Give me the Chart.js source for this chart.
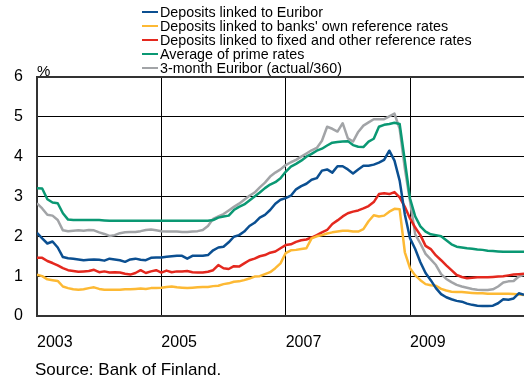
<!DOCTYPE html>
<html>
<head>
<meta charset="utf-8">
<script src="https://cdn.jsdelivr.net/npm/chart.js@4.4.1/dist/chart.umd.min.js"></script>
<style>
  body { margin: 0; background: #fff; font-family: 'Liberation Sans', Arial, sans-serif; color: #000; }
  #wrap { position: relative; width: 524px; height: 380px; overflow: hidden; }
  #legend { position: absolute; left: 142px; top: 5px; }
  .item { position: relative; height: 14px; line-height: 14px; font-size: 14.3px; padding-left: 18px; white-space: nowrap; }
  .item i { position: absolute; left: 0; top: 6px; width: 16px; height: 2px; }
  #pct { position: absolute; left: 37px; top: 62px; font-size: 15px; }
  #source { position: absolute; left: 35px; top: 360px; font-size: 17px; }
</style>
</head>
<body>
<div id="wrap">
  <canvas id="chart" width="524" height="380"></canvas>
  <div id="legend"></div>
  <div id="pct">%</div>
  <div id="source">Source: Bank of Finland.</div>
</div>
<script>
// monthly observations, Jan 2003 .. Nov 2010
const startYear = 2003;
const monthCount = 95;
const yearTicks = [0, 24, 48, 72];
const yearLabels = ['2003', '2005', '2007', '2009'];

const euriborLinked = [
  2.09, 1.95, 1.82, 1.87, 1.72, 1.48, 1.45, 1.44, 1.42, 1.40, 1.41, 1.42,
  1.41, 1.39, 1.44, 1.42, 1.40, 1.36, 1.42, 1.44, 1.41, 1.40, 1.46, 1.47,
  1.47, 1.49, 1.50, 1.51, 1.51, 1.44, 1.51, 1.51, 1.51, 1.53, 1.65, 1.72,
  1.74, 1.85, 1.99, 2.03, 2.12, 2.26, 2.34, 2.47, 2.54, 2.66, 2.82, 2.92,
  2.96, 3.02, 3.18, 3.26, 3.32, 3.42, 3.46, 3.65, 3.68, 3.60, 3.76, 3.76,
  3.68, 3.58, 3.68, 3.77, 3.77, 3.80, 3.85, 3.92, 4.15, 3.90, 3.40, 2.55,
  1.95, 1.68, 1.35, 1.08, 0.90, 0.70, 0.55, 0.47, 0.42, 0.38, 0.36, 0.31,
  0.28, 0.26, 0.25, 0.25, 0.26, 0.32, 0.42, 0.41, 0.44, 0.57, 0.53
];
const ownReference = [
  1.04, 1.00, 0.92, 0.90, 0.88, 0.74, 0.70, 0.67, 0.66, 0.67, 0.70, 0.72,
  0.68, 0.66, 0.66, 0.66, 0.66, 0.67, 0.67, 0.68, 0.69, 0.68, 0.70, 0.70,
  0.71, 0.73, 0.74, 0.72, 0.71, 0.70, 0.71, 0.72, 0.73, 0.73, 0.75, 0.76,
  0.80, 0.82, 0.86, 0.87, 0.90, 0.94, 0.99, 1.00, 1.05, 1.10, 1.20, 1.32,
  1.58, 1.65, 1.66, 1.68, 1.70, 1.95, 2.00, 2.03, 2.07, 2.10, 2.12, 2.14,
  2.14, 2.12, 2.12, 2.18, 2.38, 2.53, 2.50, 2.52, 2.62, 2.69, 2.68, 1.60,
  1.20, 1.02, 0.90, 0.80, 0.77, 0.76, 0.68, 0.64, 0.61, 0.60, 0.60, 0.59,
  0.58, 0.57, 0.57, 0.56, 0.56, 0.56, 0.56, 0.56, 0.55, 0.54, 0.53
];
const fixedOther = [
  1.46, 1.46, 1.38, 1.33, 1.27, 1.20, 1.15, 1.13, 1.11, 1.12, 1.13, 1.16,
  1.10, 1.12, 1.09, 1.10, 1.09, 1.06, 1.04, 1.08, 1.15, 1.08, 1.12, 1.15,
  1.09, 1.14, 1.10, 1.12, 1.12, 1.13, 1.10, 1.09, 1.09, 1.11, 1.15, 1.28,
  1.20, 1.18, 1.25, 1.24, 1.32, 1.40, 1.44, 1.50, 1.53, 1.59, 1.62, 1.70,
  1.78, 1.80, 1.86, 1.90, 1.92, 1.97, 2.03, 2.10, 2.16, 2.31, 2.40, 2.50,
  2.58, 2.62, 2.65, 2.70, 2.76, 2.86, 3.06, 3.08, 3.06, 3.11, 2.98, 2.74,
  2.45, 2.22, 2.03, 1.76, 1.68, 1.52, 1.40, 1.27, 1.15, 1.03, 0.98, 0.95,
  0.96, 0.97, 0.97, 0.97, 0.98, 0.99, 1.00, 1.02, 1.04, 1.05, 1.06
];
const primeAverage = [
  3.21, 3.20, 2.93, 2.85, 2.83, 2.58, 2.42, 2.41, 2.41, 2.41, 2.41, 2.41,
  2.41, 2.40, 2.39, 2.39, 2.39, 2.39, 2.39, 2.39, 2.39, 2.39, 2.39, 2.39,
  2.39, 2.39, 2.39, 2.39, 2.39, 2.39, 2.39, 2.39, 2.39, 2.39, 2.41, 2.47,
  2.50, 2.52, 2.66, 2.74, 2.80, 2.90, 3.00, 3.10, 3.21, 3.30, 3.36, 3.46,
  3.62, 3.75, 3.82, 3.90, 4.00, 4.07, 4.15, 4.20, 4.28, 4.35, 4.37, 4.38,
  4.39, 4.29, 4.25, 4.24, 4.38, 4.45, 4.75, 4.80, 4.82, 4.85, 4.82, 3.90,
  2.95, 2.50, 2.25, 2.12, 2.05, 2.03, 2.00, 1.90, 1.80, 1.74, 1.72, 1.70,
  1.69, 1.67, 1.66, 1.64, 1.63, 1.62, 1.61, 1.61, 1.61, 1.61, 1.61
];
const euribor3m = [
  2.83, 2.70, 2.54, 2.52, 2.41, 2.15, 2.13, 2.14, 2.15, 2.14, 2.16, 2.15,
  2.10, 2.06, 2.01, 2.03, 2.08, 2.10, 2.11, 2.11, 2.13, 2.16, 2.17, 2.15,
  2.13, 2.12, 2.12, 2.12, 2.11, 2.11, 2.12, 2.13, 2.16, 2.26, 2.44, 2.50,
  2.56, 2.65, 2.74, 2.82, 2.92, 3.02, 3.10, 3.23, 3.35, 3.50, 3.60, 3.68,
  3.79, 3.86, 3.92, 4.00, 4.08, 4.16, 4.22, 4.40, 4.75, 4.70, 4.63, 4.84,
  4.46, 4.38, 4.62, 4.78, 4.86, 4.94, 4.94, 4.94, 5.01, 5.08, 4.70, 3.70,
  2.88, 2.05, 1.82, 1.56, 1.42, 1.28, 1.05, 0.93, 0.85, 0.78, 0.74, 0.71,
  0.68, 0.66, 0.65, 0.65, 0.67, 0.74, 0.84, 0.87, 0.88, 0.99, 1.04
];

const seriesNames = [
  'Deposits linked to Euribor',
  "Deposits linked to banks' own reference rates",
  'Deposits linked to fixed and other reference rates',
  'Average of prime rates',
  '3-month Euribor (actual/360)'
];
const seriesColors = ['#0b4f91', '#fdb934', '#e4281e', '#0a9873', '#a2a4a7'];
const seriesData = [euriborLinked, ownReference, fixedOther, primeAverage, euribor3m];

// month labels, only used to tie values to dates
const months = [];
for (let i = 0; i < monthCount; i++) {
  months.push(`${startYear + Math.floor(i / 12)}-${String(i % 12 + 1).padStart(2, '0')}`);
}

// html legend, one item per line like the original
const legend = document.getElementById('legend');
seriesNames.forEach((name, i) => {
  const row = document.createElement('div');
  row.className = 'item';
  row.innerHTML = `<i style="background:${seriesColors[i]}"></i>${name}`;
  legend.appendChild(row);
});

Chart.defaults.font.family = "'Liberation Sans', Arial, sans-serif";
Chart.defaults.color = '#000';

const ctx = document.getElementById('chart').getContext('2d');
new Chart(ctx, {
  type: 'line',
  data: {
    datasets: seriesData.map((vals, i) => ({
      label: seriesNames[i],
      data: vals.map((v, m) => ({ x: m, y: v, month: months[m] })),
      borderColor: seriesColors[i],
      backgroundColor: seriesColors[i],
      borderWidth: 2.5,
      pointRadius: 0,
      tension: 0,
      borderJoinStyle: 'round'
    }))
  },
  options: {
    responsive: false,
    animation: false,
    layout: { padding: { top: 77, left: 0, right: 0, bottom: 0 } },
    plugins: { legend: { display: false }, tooltip: { enabled: false } },
    scales: {
      x: {
        type: 'linear',
        min: 0,
        max: monthCount - 1,
        afterBuildTicks: s => { s.ticks = yearTicks.map(v => ({ value: v })); },
        afterFit: s => { s.height = 64; },
        ticks: {
          align: 'start',
          padding: 17,
          color: '#000',
          font: { size: 16 },
          callback: v => yearLabels[yearTicks.indexOf(v)]
        },
        grid: { color: '#000', lineWidth: 1, drawTicks: false },
        border: { color: '#333', width: 2 }
      },
      y: {
        min: 0,
        max: 6,
        afterFit: s => { s.width = 37; },
        ticks: { stepSize: 1, padding: 14, color: '#000', font: { size: 16 } },
        grid: {
          color: c => (c.tick && c.tick.value === 6 ? '#333' : '#000'),
          lineWidth: c => (c.tick && c.tick.value === 6 ? 2 : 1),
          drawTicks: false
        },
        border: { color: '#333', width: 2 }
      }
    }
  }
});
</script>
</body>
</html>
